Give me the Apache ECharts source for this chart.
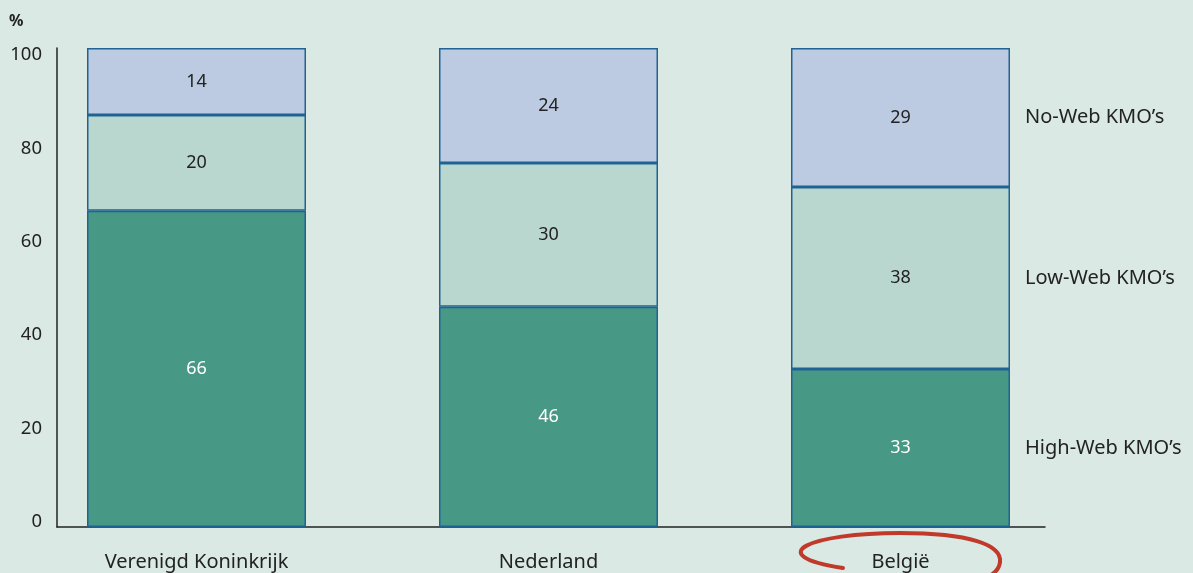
<!DOCTYPE html>
<html><head><meta charset="utf-8">
<script src="https://cdn.jsdelivr.net/npm/echarts@6/dist/echarts.min.js"></script>
<style>html,body{margin:0;padding:0;background:#dae9e3}#c{width:1193px;height:573px}</style>
</head><body><div id="c"></div>
<script>
const categories = ['Verenigd Koninkrijk', 'Nederland', 'België'];
const seriesNames = ['High-Web KMO\u2019s', 'Low-Web KMO\u2019s', 'No-Web KMO\u2019s'];
const highWeb = [66, 46, 33];
const lowWeb = [20, 30, 38];
const noWeb = [14, 24, 29];
const yTicks = [0, 20, 40, 60, 80, 100];

const FONT = '"Noto Sans", sans-serif';
const TXT = '#222222';
const colors = ['#489886', '#bad7cf', '#bccbe1'];
const labelColors = ['#ffffff', TXT, TXT];
const values = [highWeb, lowWeb, noWeb];

const series = [];
values.forEach((vals, i) => {
  series.push({
    name: seriesNames[i], type: 'bar', stack: 'main', xAxisIndex: 0, yAxisIndex: 0,
    barWidth: 219, data: vals,
    itemStyle: { color: colors[i], borderColor: '#1f6394', borderWidth: 1.5 },
    label: { show: true, position: 'inside', color: labelColors[i], fontFamily: FONT, fontSize: 18 },
    silent: true
  });
});
values.forEach((vals, i) => {
  series.push({
    name: seriesNames[i] + '_lbl', type: 'bar', stack: 'names', xAxisIndex: 0, yAxisIndex: 0,
    barWidth: 219, barGap: '-100%',
    data: vals.map((v, j) => ({
      value: v,
      label: { show: j === vals.length - 1 }
    })),
    itemStyle: { color: 'rgba(0,0,0,0)' },
    label: { position: 'right', distance: 15, formatter: seriesNames[i], color: TXT, fontFamily: FONT, fontSize: 20 },
    silent: true
  });
});

const chart = echarts.init(document.getElementById('c'), null, { renderer: 'canvas' });
chart.setOption({
  backgroundColor: '#dae9e3',
  animation: false,
  grid: [
    { left: 20.5, right: 116.5, top: 48, bottom: 46 },
    { left: 57, right: 148, top: 48, bottom: 46 },
    { left: 57, right: 148, top: 55, bottom: 51 }
  ],
  xAxis: [
    { type: 'category', gridIndex: 0, data: categories, axisLine: { show: false }, axisTick: { show: false },
      axisLabel: { color: TXT, fontFamily: FONT, fontSize: 20, margin: 25 } },
    { type: 'category', gridIndex: 1, data: categories, axisLine: { show: true, lineStyle: { color: '#222', width: 1.5 } },
      axisTick: { show: false }, axisLabel: { show: false } },
    { type: 'category', gridIndex: 2, data: categories, show: false }
  ],
  yAxis: [
    { type: 'value', gridIndex: 0, min: 0, max: 100, interval: 20, show: false },
    { type: 'value', gridIndex: 1, min: 0, max: 100, interval: 20, splitLine: { show: false },
      axisLine: { show: true, lineStyle: { color: '#222', width: 1.5 } }, axisTick: { show: false }, axisLabel: { show: false } },
    { type: 'value', gridIndex: 2, min: yTicks[0], max: yTicks[yTicks.length - 1], interval: 20, splitLine: { show: false },
      axisLine: { show: false }, axisTick: { show: false },
      axisLabel: { color: TXT, fontFamily: FONT, fontSize: 18.5, margin: 15 } }
  ],
  series: series,
  graphic: [
    { type: 'text', left: 9, top: 13, style: { text: '%', fill: TXT, font: 'bold 16px ' + FONT } },
    { type: 'bezierCurve', silent: true,
      shape: { x1: 843, y1: 568, cpx1: 760, cpy1: 555, cpx2: 810, cpy2: 533, x2: 900, y2: 533 },
      style: { stroke: '#c0392b', lineWidth: 4, fill: null, lineCap: 'round' } },
    { type: 'bezierCurve', silent: true,
      shape: { x1: 900, y1: 533, cpx1: 970, cpy1: 533, cpx2: 1002, cpy2: 545, x2: 1000, y2: 562 },
      style: { stroke: '#c0392b', lineWidth: 4, fill: null, lineCap: 'round' } },
    { type: 'bezierCurve', silent: true,
      shape: { x1: 1000, y1: 562, cpx1: 999, cpy1: 572, cpx2: 990, cpy2: 577, x2: 975, y2: 582 },
      style: { stroke: '#c0392b', lineWidth: 4, fill: null, lineCap: 'round' } }
  ]
});
</script></body></html>
